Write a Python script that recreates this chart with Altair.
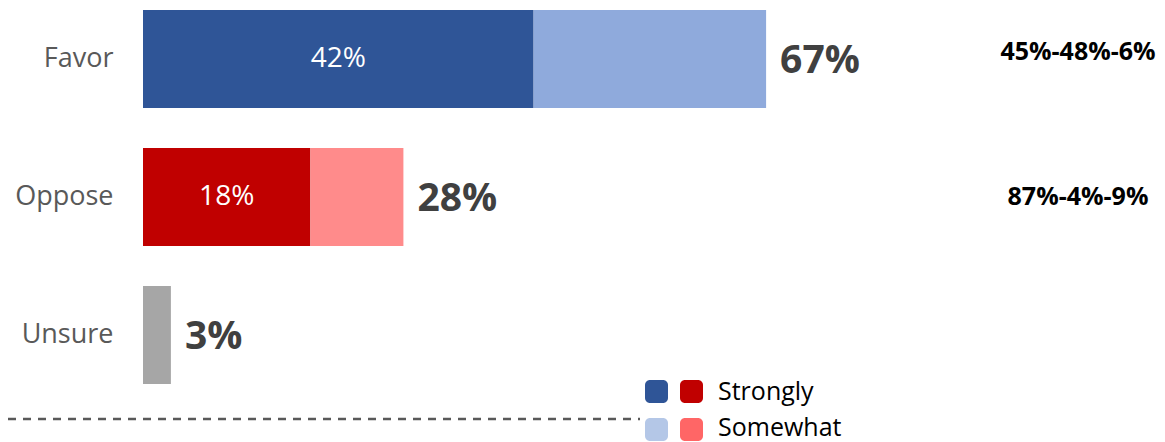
import altair as alt
import pandas as pd

categories = ["Favor", "Oppose", "Unsure"]
strongly = [42, 18, 3]
somewhat = [25, 10, 0]
totals = [67, 28, 3]
inner_labels = ["42%", "18%", ""]
side_labels = ["45%-48%-6%", "87%-4%-9%", ""]
strong_colors = ["#2F5597", "#C00000", "#A6A6A6"]
some_colors = ["#8FAADC", "#FF8B8B", "#A6A6A6"]
legend_labels = ["Strongly", "Somewhat"]

FONT = "Open Sans"

rows = []
for i, c in enumerate(categories):
    rows.append(dict(cat=c, key=c + "-s", start=0, end=strongly[i], color=strong_colors[i]))
    if somewhat[i] > 0:
        rows.append(dict(cat=c, key=c + "-w", start=strongly[i], end=strongly[i] + somewhat[i], color=some_colors[i]))
seg = pd.DataFrame(rows)

lab = pd.DataFrame(dict(cat=categories, s=strongly, tot=totals, inner=inner_labels,
                        side=side_labels, totlab=[f"{t}%" for t in totals]))
lab["mid"] = lab["s"] / 2

W = 1014
xscale = alt.Scale(domain=[0, W / 9.3], range=[0, W], nice=False, zero=False)
yscale = alt.Scale(domain=categories, paddingInner=0.29, paddingOuter=0.0145)
Y = alt.Y("cat:N", scale=yscale, sort=categories)

y_enc = alt.Y("cat:N", scale=yscale, sort=categories,
              axis=alt.Axis(title=None, ticks=False, domain=False, labelFontSize=27,
                            labelColor="#595959", labelPadding=30, labelFont=FONT,
                            labelFontWeight="normal"))

bars = alt.Chart(seg).mark_bar().encode(
    x=alt.X("start:Q", scale=xscale, axis=None),
    x2="end:Q",
    y=y_enc,
    color=alt.Color("color:N", scale=None),
)

inner = alt.Chart(lab).mark_text(color="white", fontSize=28, font=FONT).encode(
    x=alt.X("mid:Q", scale=xscale), y=Y, text="inner:N")

tot = alt.Chart(lab).mark_text(color="#404040", fontSize=39, fontWeight="bold", font=FONT,
                               align="left", dx=14, dy=2).encode(
    x=alt.X("tot:Q", scale=xscale), y=Y, text="totlab:N")

side1 = alt.Chart(lab).transform_filter(alt.datum.cat == categories[0]).mark_text(
    color="black", fontSize=25, fontWeight="bold", font=FONT, align="center", dy=-7).encode(
    x=alt.value(935), y=Y, text="side:N")
side2 = alt.Chart(lab).transform_filter(alt.datum.cat == categories[1]).mark_text(
    color="black", fontSize=25, fontWeight="bold", font=FONT, align="center", dy=0).encode(
    x=alt.value(935), y=Y, text="side:N")

dash = alt.Chart(pd.DataFrame({"a": [0]})).mark_rule(
    color="#595959", strokeWidth=2.5, strokeDash=[8, 7], clip=False).encode(
    x=alt.value(-135), x2=alt.value(497), y=alt.value(411))

leg_sq = []
leg_colors = [["#2F5597", "#C00000"], ["#B4C7E7", "#FF6666"]]
for r in range(2):
    for cidx in range(2):
        x0 = 502 + cidx * 35
        y0 = 372 + r * 38
        leg_sq.append(alt.Chart(pd.DataFrame({"a": [0]})).mark_rect(
            color=leg_colors[r][cidx], cornerRadius=5, clip=False).encode(
            x=alt.value(x0), x2=alt.value(x0 + 23), y=alt.value(y0), y2=alt.value(y0 + 23)))

leg_txt = []
for r in range(2):
    leg_txt.append(alt.Chart(pd.DataFrame({"t": [legend_labels[r]]})).mark_text(
        fontSize=25, font=FONT, align="left", baseline="middle", color="#000000").encode(
        x=alt.value(575), y=alt.value(384 + r * 36), text="t:N"))

chart = alt.layer(bars, inner, tot, side1, side2, dash, *leg_sq, *leg_txt).properties(
    width=W, height=378,
    padding={"left": 135, "top": 0, "right": 0, "bottom": 56},
    autosize=alt.AutoSizeParams(type="none"),
).configure_view(stroke=None)

chart.save("out.html", embed_options={"renderer": "svg", "actions": False})
